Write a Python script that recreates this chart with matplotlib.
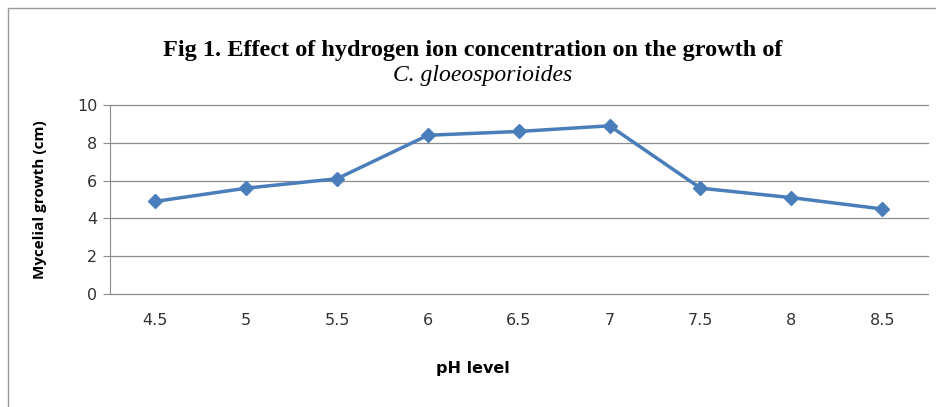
import matplotlib
matplotlib.use('Agg')
import matplotlib.pyplot as plt
from matplotlib.patches import Rectangle

ph_labels = ['4.5', '5', '5.5', '6', '6.5', '7', '7.5', '8', '8.5']
growth = [4.9, 5.6, 6.1, 8.4, 8.6, 8.9, 5.6, 5.1, 4.5]
yticks = [0, 2, 4, 6, 8, 10]

fig = plt.figure(figsize=(9.36, 4.07), dpi=100)
ax = fig.add_axes([0.1175, 0.2776, 0.8735, 0.4644])

x = list(range(len(ph_labels)))
ax.plot(x, growth, color='#4a7ebb', linewidth=2.5, marker='D', markersize=7,
        markerfacecolor='#4a7ebb', markeredgecolor='#4a7ebb', zorder=3)

ax.set_xlim(-0.5, len(ph_labels) - 0.5)
ax.set_ylim(0, 10)
ax.set_yticks(yticks)
ax.set_xticks(x)
ax.set_xticklabels(ph_labels)
ax.yaxis.grid(True, color='#8c8c8c', linewidth=0.9)
for gl in ax.get_ygridlines():
    gl.set_clip_on(False)
ax.set_axisbelow(True)
for s in ['top', 'right', 'bottom']:
    ax.spines[s].set_visible(False)
ax.spines['left'].set_color('#8c8c8c')
ax.tick_params(axis='y', length=5, color='#8c8c8c', labelsize=11.5, pad=4)
ax.tick_params(axis='x', length=0, labelsize=11.5, pad=14)
for t in ax.get_xticklabels() + ax.get_yticklabels():
    t.set_fontfamily('DejaVu Sans')
    t.set_color('#333333')

fig.text(40 / 936, 1 - 200 / 407, 'Mycelial growth (cm)', rotation=90,
         ha='center', va='center', fontsize=11, fontfamily='Open Sans',
         fontweight='bold')
fig.text(473 / 936, 1 - 368 / 407, 'pH level', ha='center', va='center',
         fontsize=11.5, fontfamily='DejaVu Sans', fontweight='bold')

fig.text(0.505, 1 - 56 / 407, 'Fig 1. Effect of hydrogen ion concentration on the growth of',
         ha='center', va='baseline', fontsize=17.5, fontweight='bold',
         fontfamily='Liberation Serif')
fig.text(0.516, 1 - 81 / 407, 'C. gloeosporioides', ha='center', va='baseline',
         fontsize=17, fontstyle='italic', fontfamily='Liberation Serif')

fig.patches.append(Rectangle((0.009, -0.01), 1.2, 0.99, transform=fig.transFigure,
                             fill=False, edgecolor='#999999', linewidth=1))

fig.savefig('out.png', dpi=100)
